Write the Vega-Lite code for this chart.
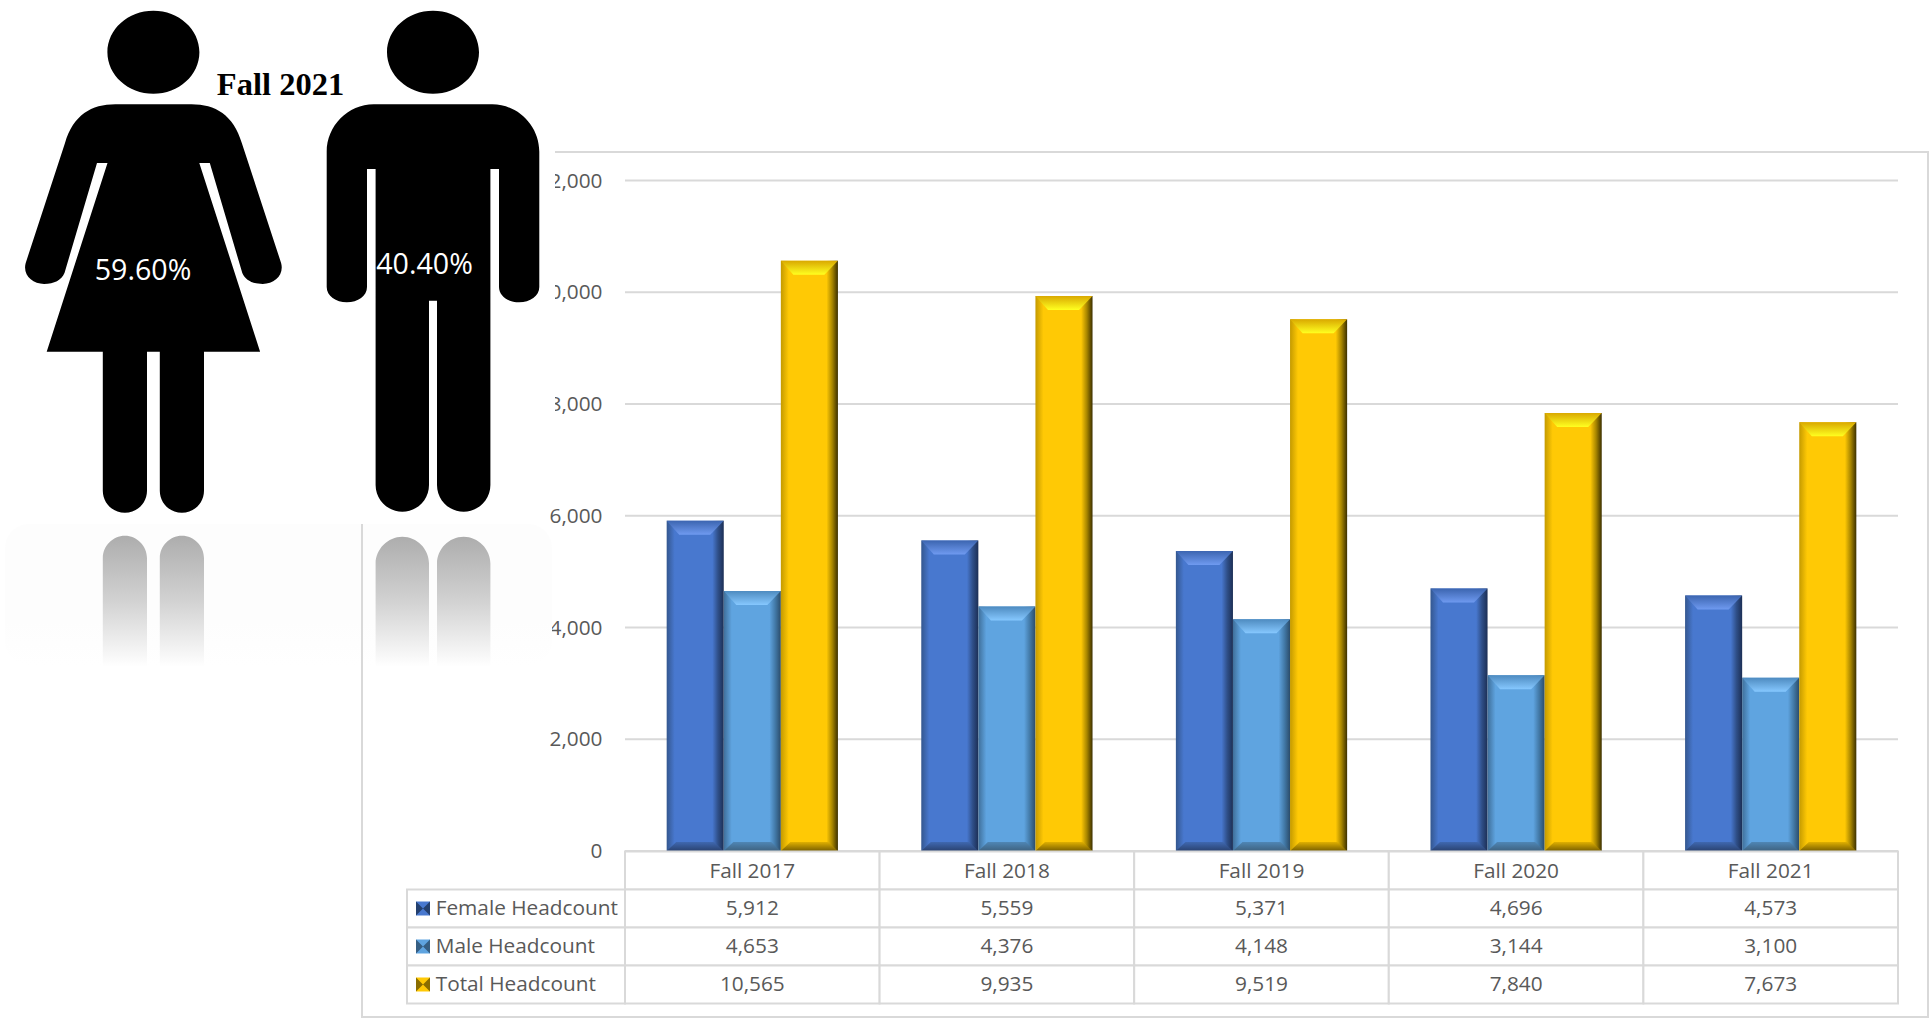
{
"$schema":"https://vega.github.io/schema/vega-lite/v6.json",
"width":1929,"height":1018,"padding":0,"autosize":{"type":"none"},
"background":"white",
"config":{"view":{"stroke":null},"text":{"font":"Open Sans","fontSize":20.8,"color":"#595959"}},
"datasets":{
"headcount":[
{"period":"Fall 2017","series":"Female Headcount","value":5912},{"period":"Fall 2018","series":"Female Headcount","value":5559},{"period":"Fall 2019","series":"Female Headcount","value":5371},{"period":"Fall 2020","series":"Female Headcount","value":4696},{"period":"Fall 2021","series":"Female Headcount","value":4573},
{"period":"Fall 2017","series":"Male Headcount","value":4653},{"period":"Fall 2018","series":"Male Headcount","value":4376},{"period":"Fall 2019","series":"Male Headcount","value":4148},{"period":"Fall 2020","series":"Male Headcount","value":3144},{"period":"Fall 2021","series":"Male Headcount","value":3100},
{"period":"Fall 2017","series":"Total Headcount","value":10565},{"period":"Fall 2018","series":"Total Headcount","value":9935},{"period":"Fall 2019","series":"Total Headcount","value":9519},{"period":"Fall 2020","series":"Total Headcount","value":7840},{"period":"Fall 2021","series":"Total Headcount","value":7673}],
"periods":[{"period":"Fall 2017","row":"Header"},{"period":"Fall 2018","row":"Header"},{"period":"Fall 2019","row":"Header"},{"period":"Fall 2020","row":"Header"},{"period":"Fall 2021","row":"Header"}],
"ticks":[{"tick":0},{"tick":2000},{"tick":4000},{"tick":6000},{"tick":8000},{"tick":10000},{"tick":12000}],
"seriesList":[{"series":"Female Headcount"},{"series":"Male Headcount"},{"series":"Total Headcount"}],
"figures":[{"gender":"Female","share":"59.60%"},{"gender":"Male","share":"40.40%"}],
"single":[{"item":"panel"}],
"caption":[{"caption":"Fall 2021"}]
},
"resolve":{"scale":{"x":"independent","y":"independent","xOffset":"independent","color":"independent","shape":"independent"}},
"layer":[
{"data":{"name":"single"},"mark":{"type":"rect","cornerRadius":24,"fill":{"gradient":"linear","x1":0,"x2":0,"y1":0,"y2":1,"stops":[{"offset":0,"color":"#fdfdfd"},{"offset":0.7,"color":"#fdfdfd"},{"offset":1,"color":"#ffffff"}]}},
 "encoding":{"x":{"datum":0,"type":"quantitative","scale":{"domain":[0,1],"range":[5,552]},"axis":null},"x2":{"datum":1},
 "y":{"datum":0,"type":"quantitative","scale":{"domain":[0,1],"range":[524,665]},"axis":null},"y2":{"datum":1}}},
{"data":{"name":"single"},"mark":{"type":"rect","fill":null,"stroke":"#d9d9d9","strokeWidth":2},
 "encoding":{"x":{"datum":0,"type":"quantitative","scale":{"domain":[0,1],"range":[362,1928]},"axis":null},"x2":{"datum":1},
 "y":{"datum":0,"type":"quantitative","scale":{"domain":[0,1],"range":[152,1017]},"axis":null},"y2":{"datum":1}}},
{"data":{"name":"ticks"},"mark":{"type":"rule","stroke":"#d9d9d9","strokeWidth":2},
 "encoding":{"x":{"datum":0,"type":"quantitative","scale":{"domain":[0,1],"range":[625,1898]},"axis":null},"x2":{"datum":1},
 "y":{"field":"tick","type":"quantitative","scale":{"domain":[0,12000],"range":[851,180.5],"nice":false},
 "axis":{"orient":"left","offset":-602,"title":null,"domain":false,"ticks":false,"grid":false,"labelPadding":0,"labelOffset":0.7,"values":[0,2000,4000,6000,8000,10000,12000],"format":",.0f","labelFont":"Open Sans","labelFontSize":20.8,"labelColor":"#595959"}}}},

{"data":{"name":"headcount"},"transform":[{"filter":{"field":"series","equal":"Female Headcount"}}],
 "mark":{"type":"bar","color":{"gradient":"linear","x1":0,"x2":1,"y1":0,"y2":0,"stops":[{"offset":0,"color":"#34578f"},{"offset":0.14,"color":"#4878cf"},{"offset":0.8,"color":"#4878cf"},{"offset":0.9,"color":"#2f4f88"},{"offset":1,"color":"#1c2f55"}]}},
 "encoding":{"x":{"field":"period","type":"nominal","scale":{"type":"band","domain":["Fall 2017","Fall 2018","Fall 2019","Fall 2020","Fall 2021"],"range":[625,1898],"paddingInner":0,"paddingOuter":0},"axis":null},
 "xOffset":{"field":"series","type":"nominal","scale":{"type":"band","domain":["Female Headcount","Male Headcount","Total Headcount"],"paddingInner":0,"paddingOuter":0.73}},
 "y":{"field":"value","type":"quantitative","scale":{"domain":[0,12000],"range":[851,180.5],"nice":false},"axis":null}}},
{"data":{"name":"headcount"},"transform":[{"filter":{"field":"series","equal":"Male Headcount"}}],
 "mark":{"type":"bar","color":{"gradient":"linear","x1":0,"x2":1,"y1":0,"y2":0,"stops":[{"offset":0,"color":"#3f6f9a"},{"offset":0.14,"color":"#5fa4e0"},{"offset":0.8,"color":"#5fa4e0"},{"offset":0.9,"color":"#437aa8"},{"offset":1,"color":"#2b4c6a"}]}},
 "encoding":{"x":{"field":"period","type":"nominal","scale":{"type":"band","domain":["Fall 2017","Fall 2018","Fall 2019","Fall 2020","Fall 2021"],"range":[625,1898],"paddingInner":0,"paddingOuter":0},"axis":null},
 "xOffset":{"field":"series","type":"nominal","scale":{"type":"band","domain":["Female Headcount","Male Headcount","Total Headcount"],"paddingInner":0,"paddingOuter":0.73}},
 "y":{"field":"value","type":"quantitative","scale":{"domain":[0,12000],"range":[851,180.5],"nice":false},"axis":null}}},
{"data":{"name":"headcount"},"transform":[{"filter":{"field":"series","equal":"Total Headcount"}}],
 "mark":{"type":"bar","color":{"gradient":"linear","x1":0,"x2":1,"y1":0,"y2":0,"stops":[{"offset":0,"color":"#c49a00"},{"offset":0.14,"color":"#ffc905"},{"offset":0.8,"color":"#ffc905"},{"offset":0.9,"color":"#a88600"},{"offset":1,"color":"#3c3000"}]}},
 "encoding":{"x":{"field":"period","type":"nominal","scale":{"type":"band","domain":["Fall 2017","Fall 2018","Fall 2019","Fall 2020","Fall 2021"],"range":[625,1898],"paddingInner":0,"paddingOuter":0},"axis":null},
 "xOffset":{"field":"series","type":"nominal","scale":{"type":"band","domain":["Female Headcount","Male Headcount","Total Headcount"],"paddingInner":0,"paddingOuter":0.73}},
 "y":{"field":"value","type":"quantitative","scale":{"domain":[0,12000],"range":[851,180.5],"nice":false},"axis":null}}},

{"data":{"name":"headcount"},"transform":[{"filter":{"field":"series","equal":"Female Headcount"}}],
 "mark":{"type":"point","filled":true,"opacity":1,"size":4,"yOffset":7,"shape":"M-28.5,-7 L28.5,-7 L15,7 L-16,7 Z","color":{"gradient":"linear","x1":0,"x2":0,"y1":0,"y2":1,"stops":[{"offset":0,"color":"#3c65b0"},{"offset":1,"color":"#6f9af0"}]}},
 "encoding":{"x":{"field":"period","type":"nominal","scale":{"type":"band","domain":["Fall 2017","Fall 2018","Fall 2019","Fall 2020","Fall 2021"],"range":[625,1898],"paddingInner":0,"paddingOuter":0},"axis":null},
 "xOffset":{"field":"series","type":"nominal","scale":{"type":"band","domain":["Female Headcount","Male Headcount","Total Headcount"],"paddingInner":0,"paddingOuter":0.73}},
 "y":{"field":"value","type":"quantitative","scale":{"domain":[0,12000],"range":[851,180.5],"nice":false},"axis":null}}},
{"data":{"name":"headcount"},"transform":[{"filter":{"field":"series","equal":"Male Headcount"}}],
 "mark":{"type":"point","filled":true,"opacity":1,"size":4,"yOffset":7,"shape":"M-28.5,-7 L28.5,-7 L15,7 L-16,7 Z","color":{"gradient":"linear","x1":0,"x2":0,"y1":0,"y2":1,"stops":[{"offset":0,"color":"#4e8bc0"},{"offset":1,"color":"#86c8ff"}]}},
 "encoding":{"x":{"field":"period","type":"nominal","scale":{"type":"band","domain":["Fall 2017","Fall 2018","Fall 2019","Fall 2020","Fall 2021"],"range":[625,1898],"paddingInner":0,"paddingOuter":0},"axis":null},
 "xOffset":{"field":"series","type":"nominal","scale":{"type":"band","domain":["Female Headcount","Male Headcount","Total Headcount"],"paddingInner":0,"paddingOuter":0.73}},
 "y":{"field":"value","type":"quantitative","scale":{"domain":[0,12000],"range":[851,180.5],"nice":false},"axis":null}}},
{"data":{"name":"headcount"},"transform":[{"filter":{"field":"series","equal":"Total Headcount"}}],
 "mark":{"type":"point","filled":true,"opacity":1,"size":4,"yOffset":7,"shape":"M-28.5,-7 L28.5,-7 L15,7 L-16,7 Z","color":{"gradient":"linear","x1":0,"x2":0,"y1":0,"y2":1,"stops":[{"offset":0,"color":"#d9a800"},{"offset":1,"color":"#ffff20"}]}},
 "encoding":{"x":{"field":"period","type":"nominal","scale":{"type":"band","domain":["Fall 2017","Fall 2018","Fall 2019","Fall 2020","Fall 2021"],"range":[625,1898],"paddingInner":0,"paddingOuter":0},"axis":null},
 "xOffset":{"field":"series","type":"nominal","scale":{"type":"band","domain":["Female Headcount","Male Headcount","Total Headcount"],"paddingInner":0,"paddingOuter":0.73}},
 "y":{"field":"value","type":"quantitative","scale":{"domain":[0,12000],"range":[851,180.5],"nice":false},"axis":null}}},

{"data":{"name":"headcount"},"transform":[{"filter":{"field":"series","equal":"Female Headcount"}}],
 "mark":{"type":"point","filled":true,"opacity":1,"size":4,"yOffset":-4.5,"shape":"M-19,-4.5 L19,-4.5 L28.5,4.5 L-28.5,4.5 Z","color":{"gradient":"linear","x1":0,"x2":0,"y1":0,"y2":1,"stops":[{"offset":0,"color":"#3f68b0"},{"offset":1,"color":"#2a4270"}]}},
 "encoding":{"x":{"field":"period","type":"nominal","scale":{"type":"band","domain":["Fall 2017","Fall 2018","Fall 2019","Fall 2020","Fall 2021"],"range":[625,1898],"paddingInner":0,"paddingOuter":0},"axis":null},
 "xOffset":{"field":"series","type":"nominal","scale":{"type":"band","domain":["Female Headcount","Male Headcount","Total Headcount"],"paddingInner":0,"paddingOuter":0.73}},
 "y":{"datum":0,"type":"quantitative","scale":{"domain":[0,12000],"range":[851,180.5],"nice":false},"axis":null}}},
{"data":{"name":"headcount"},"transform":[{"filter":{"field":"series","equal":"Male Headcount"}}],
 "mark":{"type":"point","filled":true,"opacity":1,"size":4,"yOffset":-4.5,"shape":"M-19,-4.5 L19,-4.5 L28.5,4.5 L-28.5,4.5 Z","color":{"gradient":"linear","x1":0,"x2":0,"y1":0,"y2":1,"stops":[{"offset":0,"color":"#4f86b5"},{"offset":1,"color":"#3e6280"}]}},
 "encoding":{"x":{"field":"period","type":"nominal","scale":{"type":"band","domain":["Fall 2017","Fall 2018","Fall 2019","Fall 2020","Fall 2021"],"range":[625,1898],"paddingInner":0,"paddingOuter":0},"axis":null},
 "xOffset":{"field":"series","type":"nominal","scale":{"type":"band","domain":["Female Headcount","Male Headcount","Total Headcount"],"paddingInner":0,"paddingOuter":0.73}},
 "y":{"datum":0,"type":"quantitative","scale":{"domain":[0,12000],"range":[851,180.5],"nice":false},"axis":null}}},
{"data":{"name":"headcount"},"transform":[{"filter":{"field":"series","equal":"Total Headcount"}}],
 "mark":{"type":"point","filled":true,"opacity":1,"size":4,"yOffset":-4.5,"shape":"M-19,-4.5 L19,-4.5 L28.5,4.5 L-28.5,4.5 Z","color":{"gradient":"linear","x1":0,"x2":0,"y1":0,"y2":1,"stops":[{"offset":0,"color":"#e0b000"},{"offset":1,"color":"#7a6000"}]}},
 "encoding":{"x":{"field":"period","type":"nominal","scale":{"type":"band","domain":["Fall 2017","Fall 2018","Fall 2019","Fall 2020","Fall 2021"],"range":[625,1898],"paddingInner":0,"paddingOuter":0},"axis":null},
 "xOffset":{"field":"series","type":"nominal","scale":{"type":"band","domain":["Female Headcount","Male Headcount","Total Headcount"],"paddingInner":0,"paddingOuter":0.73}},
 "y":{"datum":0,"type":"quantitative","scale":{"domain":[0,12000],"range":[851,180.5],"nice":false},"axis":null}}},

{"data":{"name":"periods"},"mark":{"type":"rect","fill":"white","stroke":"#d9d9d9","strokeWidth":2},
 "encoding":{"x":{"field":"period","type":"nominal","scale":{"type":"band","domain":["Fall 2017","Fall 2018","Fall 2019","Fall 2020","Fall 2021"],"range":[625,1898],"paddingInner":0,"paddingOuter":0},"axis":null},
 "y":{"field":"row","type":"nominal","scale":{"type":"band","domain":["Header","Female Headcount","Male Headcount","Total Headcount"],"range":[851.5,1003.5],"paddingInner":0,"paddingOuter":0},"axis":null}}},
{"data":{"name":"headcount"},"mark":{"type":"rect","fill":"white","stroke":"#d9d9d9","strokeWidth":2},
 "encoding":{"x":{"field":"period","type":"nominal","scale":{"type":"band","domain":["Fall 2017","Fall 2018","Fall 2019","Fall 2020","Fall 2021"],"range":[625,1898],"paddingInner":0,"paddingOuter":0},"axis":null},
 "y":{"field":"series","type":"nominal","scale":{"type":"band","domain":["Header","Female Headcount","Male Headcount","Total Headcount"],"range":[851.5,1003.5],"paddingInner":0,"paddingOuter":0},"axis":null}}},
{"data":{"name":"seriesList"},"mark":{"type":"rect","fill":"white","stroke":"#d9d9d9","strokeWidth":2},
 "encoding":{"x":{"datum":0,"type":"quantitative","scale":{"domain":[0,1],"range":[407,625]},"axis":null},"x2":{"datum":1},
 "y":{"field":"series","type":"nominal","scale":{"type":"band","domain":["Header","Female Headcount","Male Headcount","Total Headcount"],"range":[851.5,1003.5],"paddingInner":0,"paddingOuter":0},"axis":null}}},
{"data":{"name":"periods"},"mark":{"type":"text","baseline":"middle","align":"center","dy":1},
 "encoding":{"x":{"field":"period","type":"nominal","scale":{"type":"band","domain":["Fall 2017","Fall 2018","Fall 2019","Fall 2020","Fall 2021"],"range":[625,1898],"paddingInner":0,"paddingOuter":0},"axis":null},
 "y":{"field":"row","type":"nominal","scale":{"type":"band","domain":["Header","Female Headcount","Male Headcount","Total Headcount"],"range":[851.5,1003.5],"paddingInner":0,"paddingOuter":0},"axis":null},
 "text":{"field":"period","type":"nominal"}}},
{"data":{"name":"headcount"},"mark":{"type":"text","baseline":"middle","align":"center"},
 "encoding":{"x":{"field":"period","type":"nominal","scale":{"type":"band","domain":["Fall 2017","Fall 2018","Fall 2019","Fall 2020","Fall 2021"],"range":[625,1898],"paddingInner":0,"paddingOuter":0},"axis":null},
 "y":{"field":"series","type":"nominal","scale":{"type":"band","domain":["Header","Female Headcount","Male Headcount","Total Headcount"],"range":[851.5,1003.5],"paddingInner":0,"paddingOuter":0},"axis":null},
 "text":{"field":"value","type":"quantitative","format":","}}},
{"data":{"name":"seriesList"},"mark":{"type":"text","baseline":"middle","align":"left"},
 "encoding":{"x":{"datum":0.1316,"type":"quantitative","scale":{"domain":[0,1],"range":[407,625]},"axis":null},
 "y":{"field":"series","type":"nominal","scale":{"type":"band","domain":["Header","Female Headcount","Male Headcount","Total Headcount"],"range":[851.5,1003.5],"paddingInner":0,"paddingOuter":0},"axis":null},
 "text":{"field":"series","type":"nominal"}}},
{"data":{"name":"seriesList"},"mark":{"type":"point","filled":true,"opacity":1,"shape":"M-7,-7 L7,-7 L7,7 L-7,7 Z","size":4},
 "encoding":{"x":{"datum":0.0734,"type":"quantitative","scale":{"domain":[0,1],"range":[407,625]},"axis":null},
 "y":{"field":"series","type":"nominal","scale":{"type":"band","domain":["Header","Female Headcount","Male Headcount","Total Headcount"],"range":[851.5,1003.5],"paddingInner":0,"paddingOuter":0},"axis":null},
 "color":{"field":"series","type":"nominal","scale":{"domain":["Female Headcount","Male Headcount","Total Headcount"],"range":["#4878cf","#5fa4e0","#ffc905"]},"legend":null}}},
{"data":{"name":"seriesList"},"mark":{"type":"point","filled":true,"opacity":1,"shape":"M0,0 L7,-7 L7,7 Z M-7,-7 L0,0 L-7,7 Z","size":4},
 "encoding":{"x":{"datum":0.0734,"type":"quantitative","scale":{"domain":[0,1],"range":[407,625]},"axis":null},
 "y":{"field":"series","type":"nominal","scale":{"type":"band","domain":["Header","Female Headcount","Male Headcount","Total Headcount"],"range":[851.5,1003.5],"paddingInner":0,"paddingOuter":0},"axis":null},
 "color":{"field":"series","type":"nominal","scale":{"domain":["Female Headcount","Male Headcount","Total Headcount"],"range":["#24406f","#365f83","#8a6d00"]},"legend":null}}},

{"data":{"name":"single"},"mark":{"type":"rect","fill":"white","cornerRadius":30},
 "encoding":{"x":{"datum":0,"type":"quantitative","scale":{"domain":[0,1],"range":[0,555]},"axis":null},"x2":{"datum":1},
 "y":{"datum":0,"type":"quantitative","scale":{"domain":[0,1],"range":[0,524]},"axis":null},"y2":{"datum":1}}},
{"data":{"name":"figures"},"mark":{"type":"point","filled":true,"opacity":1,"size":4,"color":"#000000"},
 "encoding":{"x":{"field":"gender","type":"nominal","scale":{"type":"point","domain":["Female","Male"],"range":[153.4,433],"padding":0},"axis":null},
 "y":{"field":"gender","type":"nominal","scale":{"type":"point","domain":["Female","Male"],"range":[260,260],"padding":0},"axis":null},
 "shape":{"field":"gender","type":"nominal","legend":null,"scale":{"domain":["Female","Male"],"range":[
 "M-46,-207.7 C-46,-230.6 -25.4,-249.2 0,-249.2 C25.4,-249.2 46,-230.6 46,-207.7 C46,-184.8 25.4,-166.2 0,-166.2 C-25.4,-166.2 -46,-184.8 -46,-207.7 Z M-38,-155.7 C-62,-155.7 -80,-145 -88.4,-117 L-127.7,3 C-131,15 -121,24 -109.4,24 C-99,24 -92,20 -88.9,13 L-56.4,-97 L-45.9,-97 L-106.7,91.7 L-50.6,91.7 L-50.6,230.7 C-50.6,243 -40.7,252.7 -28.5,252.7 C-16.3,252.7 -6.4,243 -6.4,230.7 L-6.4,91.7 L6.4,91.7 L6.4,230.7 C6.4,243 16.3,252.7 28.5,252.7 C40.7,252.7 50.6,243 50.6,230.7 L50.6,91.7 L106.7,91.7 L45.9,-97 L56.4,-97 L88.9,13 C92,20 99,24 109.4,24 C121,24 131,15 127.7,3 L88.4,-117 C80,-145 62,-155.7 38,-155.7 Z",
 "M-46,-207.7 C-46,-230.6 -25.4,-249.2 0,-249.2 C25.4,-249.2 46,-230.6 46,-207.7 C46,-184.8 25.4,-166.2 0,-166.2 C-25.4,-166.2 -46,-184.8 -46,-207.7 Z M-59.3,-155.7 C-85,-155.7 -106.3,-134 -106.3,-108.3 L-106.3,27 C-106.3,36 -97,42.3 -86.2,42.3 C-75,42.3 -66,36 -66,27 L-66,-91 L-57.4,-91 L-57.4,225 C-57.4,240 -45,251.7 -30.7,251.7 C-16,251.7 -4,240 -4,225 L-4,40.7 L4,40.7 L4,225 C4,240 16,251.7 30.7,251.7 C45,251.7 57.4,240 57.4,225 L57.4,-91 L66,-91 L66,27 C66,36 75,42.3 86.2,42.3 C97,42.3 106.3,36 106.3,27 L106.3,-108.3 C106.3,-134 85,-155.7 59.3,-155.7 Z"]}}}},
{"data":{"name":"figures"},"mark":{"type":"point","filled":true,"opacity":1,"size":4,"color":{"gradient":"linear","x1":0,"x2":0,"y1":0,"y2":1,"stops":[{"offset":0,"color":"#adadad"},{"offset":0.5,"color":"#d2d2d2"},{"offset":1,"color":"#ffffff"}]}},
 "encoding":{"x":{"field":"gender","type":"nominal","scale":{"type":"point","domain":["Female","Male"],"range":[153.4,433],"padding":0},"axis":null},
 "y":{"field":"gender","type":"nominal","scale":{"type":"point","domain":["Female","Male"],"range":[600,600],"padding":0},"axis":null},
 "shape":{"field":"gender","type":"nominal","legend":null,"scale":{"domain":["Female","Male"],"range":[
 "M-50.6,66.7 L-50.6,-42 C-50.6,-54 -40.7,-64.3 -28.5,-64.3 C-16.3,-64.3 -6.4,-54 -6.4,-42 L-6.4,66.7 Z M6.4,66.7 L6.4,-42 C6.4,-54 16.3,-64.3 28.5,-64.3 C40.7,-64.3 50.6,-54 50.6,-42 L50.6,66.7 Z",
 "M-57.4,66.7 L-57.4,-36.6 C-57.4,-51 -45,-63.3 -30.7,-63.3 C-16,-63.3 -4,-51 -4,-36.6 L-4,66.7 Z M4,66.7 L4,-36.6 C4,-51 16,-63.3 30.7,-63.3 C45,-63.3 57.4,-51 57.4,-36.6 L57.4,66.7 Z"]}}}},
{"data":{"name":"figures"},"mark":{"type":"text","baseline":"middle","align":"center","color":"white","font":"Open Sans","fontSize":28.6},
 "encoding":{"x":{"field":"gender","type":"nominal","scale":{"type":"point","domain":["Female","Male"],"range":[143,424.5],"padding":0},"axis":null},
 "y":{"field":"gender","type":"nominal","scale":{"type":"point","domain":["Female","Male"],"range":[271,265],"padding":0},"axis":null},
 "text":{"field":"share","type":"nominal"}}},
{"data":{"name":"caption"},"mark":{"type":"text","baseline":"middle","align":"center","color":"#000000","font":"Liberation Serif","fontWeight":"bold","fontSize":32.5},
 "encoding":{"x":{"field":"caption","type":"nominal","scale":{"type":"point","domain":["Fall 2021"],"range":[280.5,280.5],"padding":0},"axis":null},
 "y":{"field":"caption","type":"nominal","scale":{"type":"point","domain":["Fall 2021"],"range":[85,85],"padding":0},"axis":null},
 "text":{"field":"caption","type":"nominal"}}}
]
}
